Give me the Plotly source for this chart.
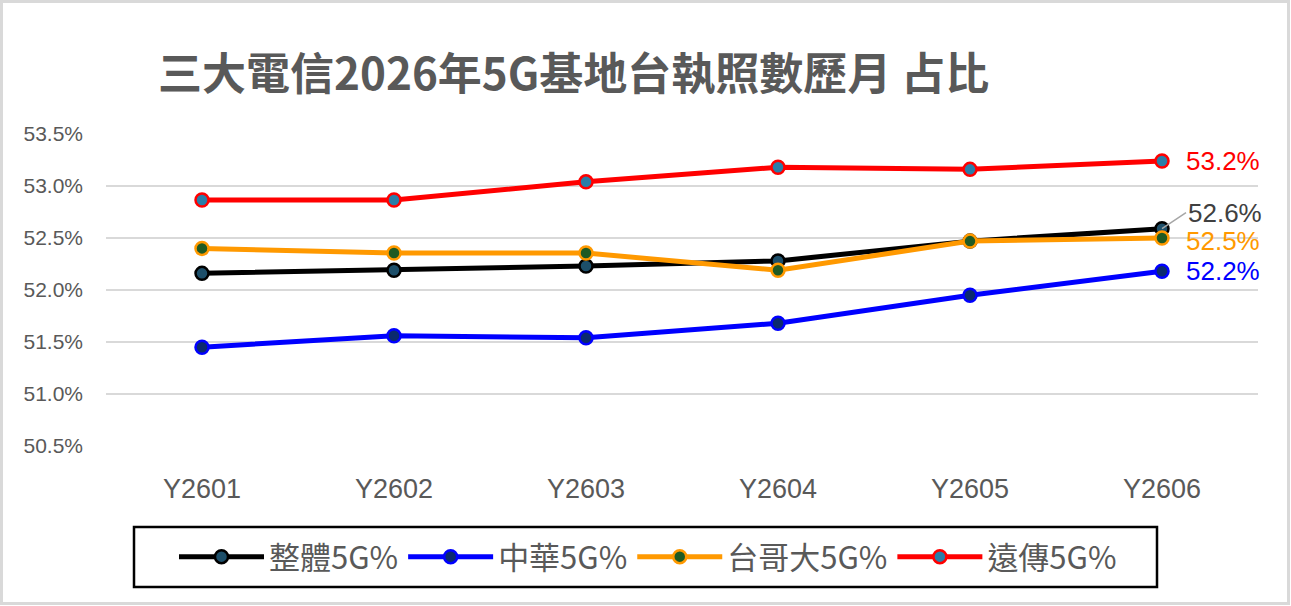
import plotly.graph_objects as go

categories = ["Y2601", "Y2602", "Y2603", "Y2604", "Y2605", "Y2606"]
overall = [52.16, 52.19, 52.23, 52.28, 52.47, 52.59]
cht = [51.45, 51.56, 51.54, 51.68, 51.95, 52.18]
twm = [52.40, 52.355, 52.355, 52.19, 52.47, 52.50]
fet = [52.865, 52.865, 53.04, 53.18, 53.16, 53.24]
y_ticks = [50.5, 51.0, 51.5, 52.0, 52.5, 53.0, 53.5]
y_tick_text = ["50.5%", "51.0%", "51.5%", "52.0%", "52.5%", "53.0%", "53.5%"]

series = [
    ("整體5G%", overall, "#000000", "#1d4f6a"),
    ("中華5G%", cht, "#0000ff", "#0b2a6e"),
    ("台哥大5G%", twm, "#ff9900", "#1f5a23"),
    ("遠傳5G%", fet, "#ff0000", "#2a7ea8"),
]
label_colors = ["#404040", "#0000ff", "#ff9900", "#ff0000"]

W, H = 1291, 606
L, R, T, B = 106, 33, 134, 160
pw, ph = W - L - R, H - T - B

fig = go.Figure()
for name, vals, lc, mc in series:
    fig.add_trace(go.Scatter(
        x=categories, y=vals, name=name, mode="lines+markers",
        line=dict(color=lc, width=5),
        marker=dict(size=13, color=mc, line=dict(color=lc, width=2.5)),
    ))

label_font = "Liberation Sans, Arial"
for i, (name, vals, lc, mc) in enumerate(series):
    v = vals[-1]
    txt = f"{v:.1f}%"
    if i == 0:
        fig.add_annotation(x=categories[-1], y=v, text=txt, showarrow=True,
                           arrowhead=0, arrowwidth=1.5, arrowcolor="#a6a6a6",
                           ax=24, ay=-16, xanchor="left", yanchor="middle",
                           font=dict(family=label_font, size=26, color=label_colors[i]))
    else:
        yshift = -3 if i == 2 else 0
        fig.add_annotation(x=categories[-1], y=v, text=txt, showarrow=False,
                           xanchor="left", yanchor="middle", xshift=22, yshift=yshift,
                           font=dict(family=label_font, size=26, color=label_colors[i]))

def px_to_paper_x(px):
    return (px - L) / pw

def px_to_paper_y(py):
    return (H - B - py) / ph

fig.add_shape(type="rect", xref="paper", yref="paper",
              x0=px_to_paper_x(1.5), x1=px_to_paper_x(W - 2.5),
              y0=px_to_paper_y(H - 2.5), y1=px_to_paper_y(1.5),
              line=dict(color="#d9d9d9", width=3), layer="below")
fig.add_shape(type="rect", xref="paper", yref="paper",
              x0=px_to_paper_x(134), x1=px_to_paper_x(1157),
              y0=px_to_paper_y(587), y1=px_to_paper_y(527),
              line=dict(color="#000000", width=2.5), layer="below")

fig.update_layout(
    width=W, height=H,
    margin=dict(l=L, r=R, t=T, b=B),
    paper_bgcolor="white", plot_bgcolor="white",
    title=dict(text="<b>三大電信2026年5G基地台執照數歷月 占比</b>",
               font=dict(family="Noto Sans CJK TC", size=44, color="#595959"),
               xref="container", yref="container", x=158 / W, xanchor="left",
               y=1 - 75 / H, yanchor="middle"),
    showlegend=True,
    legend=dict(orientation="h", xref="container", yref="container",
                x=648 / W, xanchor="center", y=1 - 557 / H, yanchor="middle",
                font=dict(family="Noto Sans CJK TC", size=31, color="#595959"),
                borderwidth=0, bgcolor="rgba(0,0,0,0)", itemwidth=85,
                traceorder="normal"),
    xaxis=dict(type="category", range=[-0.5, 5.5], showgrid=False, showline=False,
               ticks="", zeroline=False,
               tickfont=dict(family=label_font, size=27, color="#595959"),
               ticklabelstandoff=24),
    yaxis=dict(range=[50.5, 53.5], tickvals=y_ticks, ticktext=y_tick_text,
               showgrid=True, gridcolor="#d9d9d9", gridwidth=2, zeroline=False,
               showline=False, ticks="",
               tickfont=dict(family=label_font, size=21, color="#595959"),
               ticklabelstandoff=22),
)

fig.write_html("out.html")
